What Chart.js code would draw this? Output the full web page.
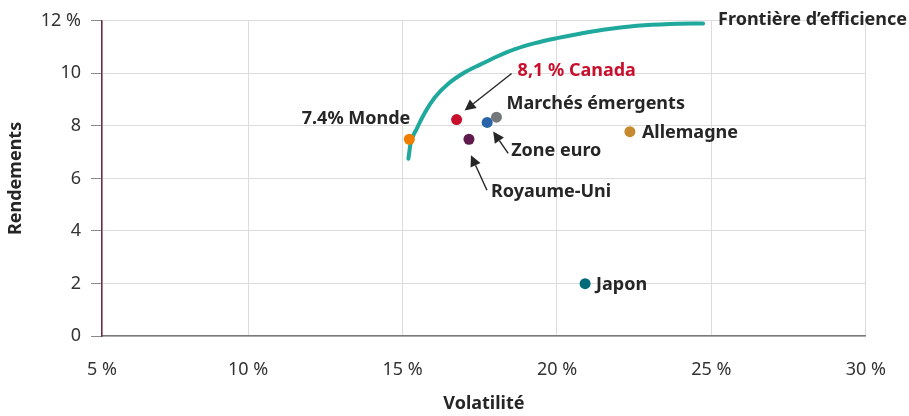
<!DOCTYPE html>
<html lang="fr">
<head>
<meta charset="utf-8">
<script src="https://cdn.jsdelivr.net/npm/chart.js@4"></script>
<style>
  body { margin: 0; background: #fff; }
  #wrap { width: 909px; height: 416px; }
</style>
</head>
<body>
<div id="wrap"><canvas id="chart" width="909" height="416"></canvas></div>
<script>
// Data
const countries = ['Monde', 'Canada', 'Zone euro', 'Marchés émergents', 'Royaume-Uni', 'Allemagne', 'Japon'];
const countryLabels = ['7.4% Monde', '8,1 % Canada', 'Zone euro', 'Marchés émergents', 'Royaume-Uni', 'Allemagne', 'Japon'];
const volatility = [15.22, 16.75, 17.74, 18.04, 17.15, 22.36, 20.91];
const returns = [7.49, 8.24, 8.13, 8.33, 7.49, 7.78, 1.99];
const countryColors = ['#ef7d00', '#c8102e', '#2a64a8', '#75787b', '#5e1b4b', '#c68a2f', '#006c7a'];

const frontierVol = [15.19, 15.26, 15.46, 15.73, 16.05, 16.48, 16.99, 17.51, 18.06, 18.64, 19.29, 20.00, 20.74, 21.49, 22.59, 23.66, 24.73];
const frontierRet = [6.75, 7.33, 7.89, 8.52, 9.09, 9.60, 10.02, 10.33, 10.64, 10.92, 11.15, 11.34, 11.51, 11.66, 11.81, 11.88, 11.90];
const frontierLabel = 'Frontière d’efficience';

const xTicks = [5, 10, 15, 20, 25, 30];
const xTickLabels = ['5 %', '10 %', '15 %', '20 %', '25 %', '30 %'];
const yTicks = [0, 2, 4, 6, 8, 10, 12];
const yTickLabels = ['0', '2', '4', '6', '8', '10', '12 %'];
const xMin = 5.27; // the original axis starts a hair right of 5 %

// label placement, pixel offsets from each point
const labelStyle = {
  'Monde':             { dx: 1,  dy: -20, align: 'right' },
  'Canada':            { dx: 61, dy: -49, color: '#c8102e', arrow: [55, -46, 8, -9] },
  'Zone euro':         { dx: 24, dy: 28, arrow: [21, 31, 6, 9] },
  'Marchés émergents': { dx: 10, dy: -13 },
  'Royaume-Uni':       { dx: 22, dy: 53, arrow: [18, 51, 2, 16] },
  'Allemagne':         { dx: 12, dy: 1 },
  'Japon':             { dx: 11, dy: 1 }
};

const FONT = '"Noto Sans", sans-serif';
const LABEL_FONT = 'bold 18px ' + FONT;
const INK = '#262626';

function arrow(ctx, x1, y1, x2, y2) {
  const a = Math.atan2(y2 - y1, x2 - x1);
  const head = 11, w = 5.5;
  const bx = x2 - head * Math.cos(a), by = y2 - head * Math.sin(a);
  ctx.beginPath();
  ctx.moveTo(x1, y1);
  ctx.lineTo(bx, by);
  ctx.lineWidth = 1.4;
  ctx.strokeStyle = INK;
  ctx.stroke();
  ctx.beginPath();
  ctx.moveTo(x2, y2);
  ctx.lineTo(bx + w * Math.sin(a), by - w * Math.cos(a));
  ctx.lineTo(bx - w * Math.sin(a), by + w * Math.cos(a));
  ctx.closePath();
  ctx.fillStyle = INK;
  ctx.fill();
}

const labelsPlugin = {
  id: 'pointLabels',
  afterDatasetsDraw(chart) {
    const { ctx, scales: { x, y } } = chart;
    ctx.save();
    ctx.font = LABEL_FONT;
    ctx.textBaseline = 'middle';
    countries.forEach((c, i) => {
      const s = labelStyle[c];
      const px = x.getPixelForValue(volatility[i]);
      const py = y.getPixelForValue(returns[i]);
      if (s.arrow) arrow(ctx, px + s.arrow[0], py + s.arrow[1], px + s.arrow[2], py + s.arrow[3]);
      ctx.fillStyle = s.color || INK;
      ctx.textAlign = s.align || 'left';
      ctx.fillText(countryLabels[i], px + s.dx, py + s.dy);
    });
    const last = frontierVol.length - 1;
    ctx.fillStyle = INK;
    ctx.textAlign = 'left';
    ctx.fillText(frontierLabel, x.getPixelForValue(frontierVol[last]) + 15, y.getPixelForValue(frontierRet[last]) - 4);
    ctx.restore();
  }
};

new Chart(document.getElementById('chart'), {
  type: 'scatter',
  data: {
    datasets: [
      {
        label: 'Pays',
        data: volatility.map((v, i) => ({ x: v, y: returns[i] })),
        pointBackgroundColor: countryColors,
        pointBorderWidth: 0,
        pointRadius: 5.5
      },
      {
        label: frontierLabel,
        type: 'line',
        data: frontierVol.map((v, i) => ({ x: v, y: frontierRet[i] })),
        borderColor: '#1fa89c',
        borderWidth: 4,
        borderCapStyle: 'round',
        cubicInterpolationMode: 'monotone',
        pointRadius: 0,
        fill: false
      }
    ]
  },
  options: {
    responsive: false,
    animation: false,
    devicePixelRatio: 1,
    layout: { padding: { top: 20, right: 43, left: 0, bottom: 0 } },
    plugins: { legend: { display: false }, tooltip: { enabled: false } },
    scales: {
      x: {
        type: 'linear',
        min: xMin,
        max: 30,
        afterBuildTicks: scale => { scale.ticks = xTicks.map(v => ({ value: Math.max(v, xMin) })); },
        afterFit: scale => { scale.height = 80; },
        grid: { color: '#dcdcdc', drawTicks: false },
        border: { color: '#7a7a7a', width: 1.5 },
        ticks: {
          padding: 23,
          color: '#333',
          font: { family: FONT, size: 18 },
          callback: (v, i) => xTickLabels[i]
        },
        title: {
          display: true,
          text: 'Volatilité',
          color: INK,
          font: { family: FONT, size: 18, weight: 'bold' },
          padding: { top: 0, bottom: 1 }
        }
      },
      y: {
        min: 0,
        max: 12,
        afterBuildTicks: scale => { scale.ticks = yTicks.map(v => ({ value: v })); },
        afterFit: scale => { scale.width = 102; },
        grid: { color: '#dcdcdc', tickLength: 11, tickColor: '#8a8a8a' },
        border: { color: '#6e2b45', width: 1.5 },
        ticks: {
          padding: 10,
          color: '#333',
          font: { family: FONT, size: 18 },
          callback: (v, i) => yTickLabels[i]
        },
        title: {
          display: true,
          text: 'Rendements',
          color: INK,
          font: { family: FONT, size: 18, weight: 'bold' },
          padding: { top: 5, bottom: 0 }
        }
      }
    }
  },
  plugins: [labelsPlugin]
});
</script>
</body>
</html>
